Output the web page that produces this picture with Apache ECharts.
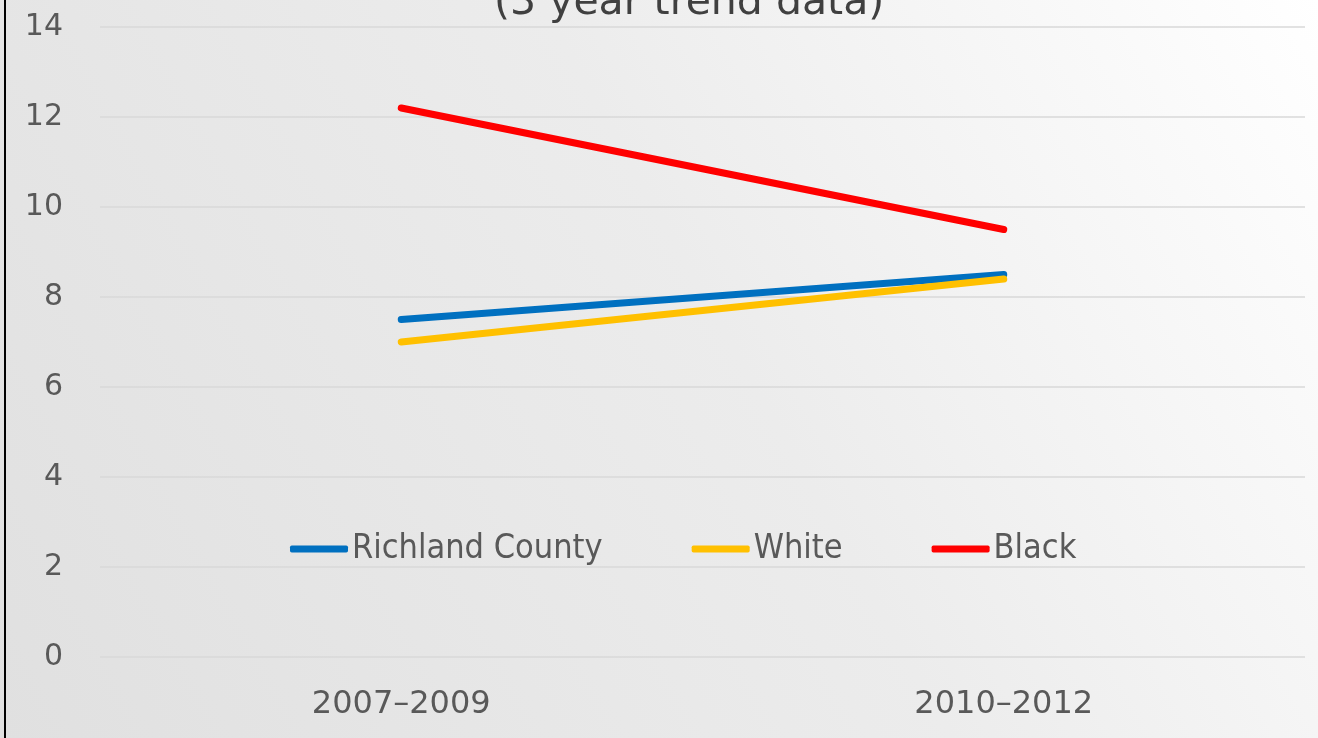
<!DOCTYPE html>
<html>
<head>
<meta charset="utf-8">
<script src="https://cdn.jsdelivr.net/npm/echarts@6/dist/echarts.min.js"></script>
<style>
html,body{margin:0;padding:0;width:1318px;height:738px;overflow:hidden;}
#c{width:1318px;height:738px;}
</style>
</head>
<body>
<div id="c"></div>
<script>
var categories = ['2007\u20132009', '2010\u20132012'];
var richland = [7.5, 8.5];
var white = [7.0, 8.4];
var black = [12.2, 9.5];
var seriesNames = ['Richland County', 'White', 'Black'];
var yTicks = [0, 2, 4, 6, 8, 10, 12, 14];
var titleText = '(3 year trend data)';

var chart = echarts.init(document.getElementById('c'));
var labelColor = '#595959';
function mk(name, data, color) {
  return {
    name: name, type: 'line', data: data, symbol: 'none',
    lineStyle: { width: 7, color: color, cap: 'round' },
    itemStyle: { color: color }
  };
}
chart.setOption({
  backgroundColor: {
    type: 'linear', x: 0, y: 1, x2: 1, y2: 0,
    colorStops: [
      { offset: 0, color: '#e0e0e0' },
      { offset: 0.55, color: '#ececec' },
      { offset: 1, color: '#ffffff' }
    ]
  },
  animation: false,
  title: {
    text: titleText, left: 489, top: -22,
    textStyle: { fontFamily: 'DejaVu Sans', fontSize: 41, fontWeight: 'normal', color: '#404040' }
  },
  legend: {
    left: 285, top: 527, itemWidth: 58, itemHeight: 7, itemGap: 89,
    data: seriesNames,
    icon: 'roundRect',
    textStyle: { fontFamily: 'DejaVu Sans Condensed', fontSize: 34, color: labelColor, padding: [0, 0, 0, -1] }
  },
  grid: { left: 100, right: 13, top: 27, bottom: 81 },
  xAxis: {
    type: 'category', data: categories, boundaryGap: true,
    axisLine: { show: false }, axisTick: { show: false },
    axisLabel: { margin: 32, fontFamily: 'DejaVu Sans', fontSize: 32, color: labelColor }
  },
  yAxis: {
    type: 'value', min: yTicks[0], max: yTicks[yTicks.length - 1], interval: 2,
    axisLine: { show: false }, axisTick: { show: false },
    splitLine: { lineStyle: { color: '#d9d9d9', width: 1.5 } },
    axisLabel: { margin: 37, fontFamily: 'DejaVu Sans', fontSize: 30, color: labelColor }
  },
  graphic: [{
    type: 'rect', shape: { x: 4, y: 0, width: 2, height: 738 },
    style: { fill: '#000000' }
  }],
  series: [
    mk(seriesNames[0], richland, '#0070c0'),
    mk(seriesNames[1], white, '#ffc000'),
    mk(seriesNames[2], black, '#ff0000')
  ]
});
</script>
</body>
</html>
